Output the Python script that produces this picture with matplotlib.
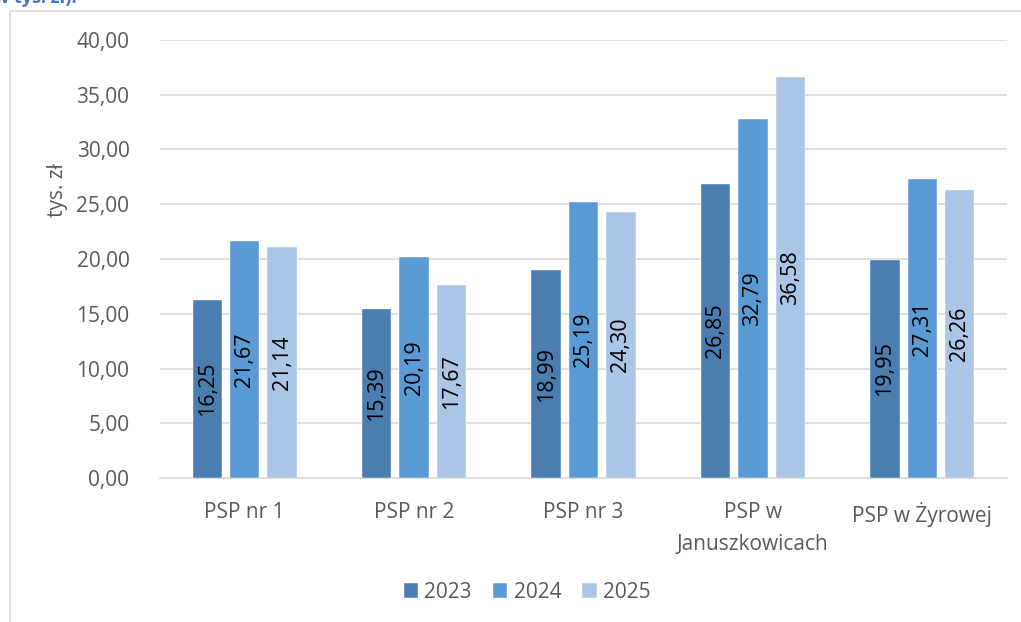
import matplotlib.pyplot as plt
import matplotlib.patches as mpatches
import numpy as np

plt.rcParams['font.family'] = ['Open Sans', 'DejaVu Sans']

# Data (tys. zł)
categories = ['PSP nr 1', 'PSP nr 2', 'PSP nr 3', 'PSP w\nJanuszkowicach', 'PSP w Żyrowej']
years = ['2023', '2024', '2025']
v2023 = [16.25, 15.39, 18.99, 26.85, 19.95]
v2024 = [21.67, 20.19, 25.19, 32.79, 27.31]
v2025 = [21.14, 17.67, 24.30, 36.58, 26.26]

colors = ['#4A7EB0', '#5B9BD5', '#ABC5E6']
series = [v2023, v2024, v2025]

fig = plt.figure(figsize=(10.21, 6.22), dpi=100)
W, H = 1021, 622

# outer frame of the chart (partly cut off)
fig.add_artist(mpatches.Rectangle((9.5 / W, -0.1), 1.2, 1 - 11 / H + 0.1,
                                  transform=fig.transFigure, fill=False,
                                  edgecolor='#D9D9D9', linewidth=1.2))
# cut-off heading text
fig.text(-6 / W, 1 - 3 / H, 'w tys. zł).', color='#4472C4', fontsize=13,
         fontweight='bold', ha='left', va='baseline')

ax = fig.add_axes([160 / W, 1 - 478 / H, (1007 - 160) / W, (478 - 40) / H])

x = np.arange(len(categories))
width = 0.174
pitch = 0.221
for i, (vals, col, yr) in enumerate(zip(series, colors, years)):
    pos = x + (i - 1) * pitch
    ax.bar(pos, vals, width, color=col, label=yr, zorder=3,
           edgecolor='#FFFFFF', linewidth=0.3)
    for p, v in zip(pos, vals):
        ax.text(p, v / 2, f'{v:.2f}'.replace('.', ','), rotation=90,
                ha='center', va='center', fontsize=15.5, color='black', zorder=4)

ax.set_xlim(-0.5, len(categories) - 0.5)
ax.set_ylim(0, 40)
ax.set_yticks(np.arange(0, 41, 5))
ax.set_yticklabels([f'{t:.2f}'.replace('.', ',') for t in np.arange(0, 41, 5)])
ax.set_xticks(x)
ax.set_xticklabels(categories, linespacing=1.7)
ax.tick_params(axis='both', length=0, labelsize=15, labelcolor='#595959')
ax.tick_params(axis='x', pad=17)
ax.tick_params(axis='y', pad=22)
ax.grid(axis='y', color='#D9D9D9', linewidth=1.2, zorder=0)
for s in ['top', 'right', 'left']:
    ax.spines[s].set_visible(False)
ax.spines['bottom'].set_color('#D9D9D9')
ax.spines['bottom'].set_linewidth(1.2)

fig.text(57 / W, 1 - 190 / H, 'tys. zł', rotation=90, ha='center', va='center',
         fontsize=15, color='#595959')

fig.legend(loc='center', bbox_to_anchor=(527 / W, 1 - 592 / H), ncol=3,
           frameon=False, fontsize=15, handlelength=0.7, handleheight=0.7,
           handletextpad=0.3, columnspacing=1.0, labelcolor='#595959')

fig.savefig('out.png', dpi=100)
